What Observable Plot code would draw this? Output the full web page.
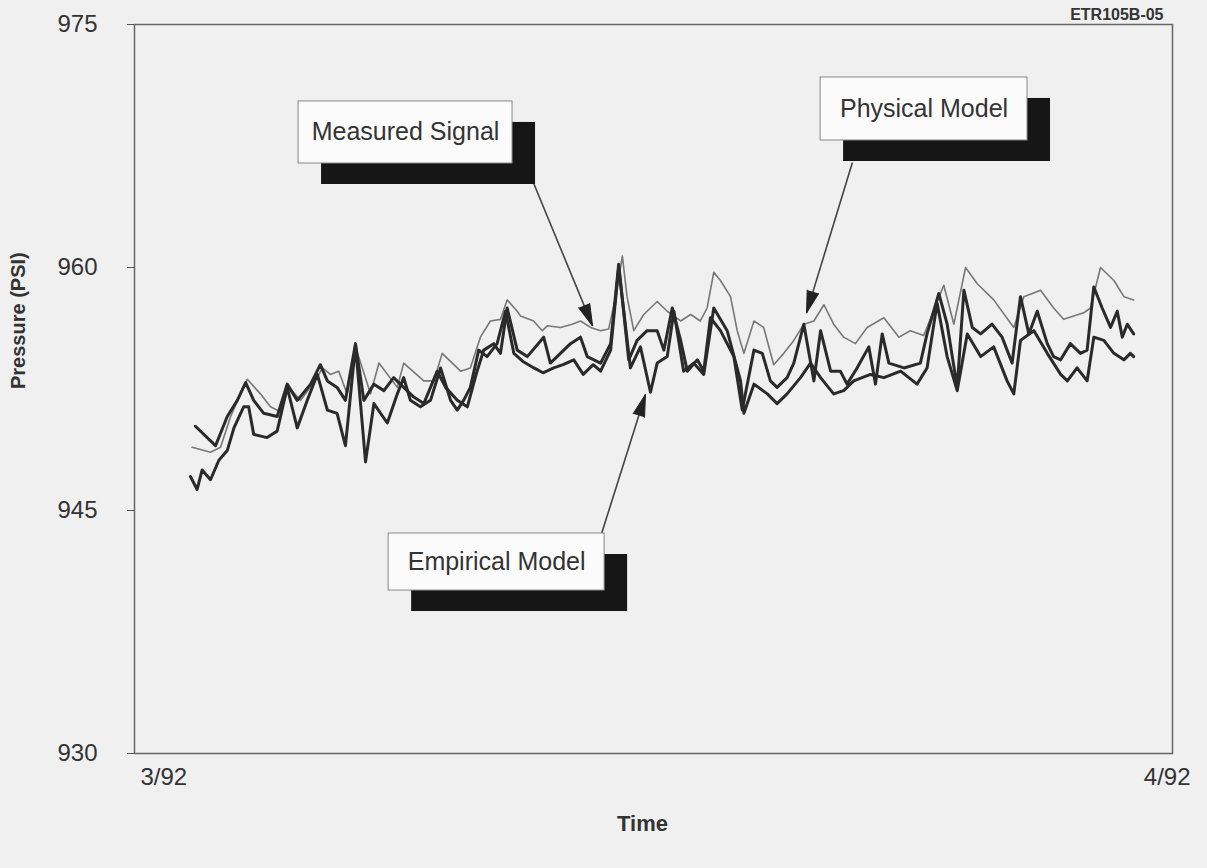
<!DOCTYPE html>
<html><head><meta charset="utf-8">
<script src="https://cdn.jsdelivr.net/npm/d3@7"></script>
<script src="https://cdn.jsdelivr.net/npm/@observablehq/plot@0.6"></script>
<style>html,body{margin:0;padding:0;background:#f0f0f0;} #chart svg{display:block;}</style>
</head><body><div id="chart"></div>
<script>
// x = days since 3/1/92, y = pressure (PSI)
const measured = [
[1.72,948.9],[2.27,948.6],[2.57,948.9],[2.87,950.8],[3.17,952.2],[3.37,953.1],[3.76,952.2],[4.06,951.4],[4.36,951.1],[4.61,952.6],[4.96,951.8],[5.46,953.2],[5.61,953.8],[5.85,953.4],[6.10,953.6],[6.35,952.2],[6.60,955.1],[7.05,952.2],[7.30,954.1],[7.85,952.6],[8.04,954.1],[8.64,953.0],[8.94,953.0],[9.19,954.7],[9.74,953.6],[10.03,953.8],[10.33,955.7],[10.63,956.7],[10.93,956.8],[11.13,958.0],[11.43,957.3],[11.53,957.0],[11.92,956.7],[12.18,956.1],[12.33,956.4],[12.72,956.3],[13.07,956.5],[13.32,956.7],[13.62,956.3],[13.92,956.1],[14.16,956.2],[14.37,958.2],[14.57,960.7],[14.71,958.2],[14.91,956.1],[15.21,957.1],[15.61,957.9],[15.91,957.3],[16.31,956.7],[16.61,957.1],[16.90,956.7],[17.10,957.5],[17.30,959.7],[17.50,959.2],[17.80,958.2],[18.00,956.1],[18.20,954.7],[18.50,956.7],[18.79,956.3],[19.09,954.0],[19.39,954.7],[19.69,955.5],[19.99,956.5],[20.29,956.7],[20.59,957.7],[20.88,956.5],[21.18,955.7],[21.53,955.3],[21.88,956.3],[22.38,956.9],[22.83,955.7],[23.17,956.1],[23.57,955.8],[24.17,958.9],[24.47,956.5],[24.82,960.0],[25.17,959.0],[25.66,958.0],[26.26,956.3],[26.56,958.2],[27.06,958.6],[27.45,957.5],[27.75,956.8],[28.35,957.2],[28.55,957.5],[28.85,960.0],[29.25,959.2],[29.55,958.2],[29.84,958.0]
];
const physical = [
[1.82,950.2],[2.42,949.0],[2.77,950.8],[3.07,951.8],[3.32,952.9],[3.56,951.8],[3.86,951.0],[4.26,950.8],[4.56,952.8],[4.86,951.8],[5.26,952.8],[5.55,954.0],[5.76,953.0],[6.05,952.6],[6.30,951.8],[6.60,955.3],[6.85,951.8],[7.15,952.8],[7.45,952.4],[7.74,953.2],[8.04,952.6],[8.34,952.0],[8.64,951.6],[9.04,953.6],[9.29,952.6],[9.64,951.8],[9.94,951.4],[10.23,953.6],[10.43,954.9],[10.73,955.3],[10.93,954.7],[11.13,957.5],[11.43,954.9],[11.73,954.5],[12.22,955.7],[12.42,954.1],[13.02,955.3],[13.32,955.7],[13.52,954.5],[13.92,954.1],[14.22,955.3],[14.46,960.2],[14.76,954.3],[15.01,955.5],[15.31,956.1],[15.61,956.1],[15.81,954.9],[16.06,957.5],[16.31,955.5],[16.51,953.6],[16.81,954.3],[17.00,953.6],[17.20,956.9],[17.50,956.1],[17.90,954.5],[18.15,951.2],[18.50,954.9],[18.75,954.7],[18.99,953.0],[19.19,952.6],[19.49,953.2],[19.69,954.1],[19.99,956.5],[20.29,953.0],[20.49,956.1],[20.79,953.6],[21.08,953.6],[21.28,952.8],[21.58,953.8],[21.93,955.1],[22.13,952.8],[22.33,955.9],[22.53,954.1],[22.98,953.8],[23.47,954.1],[23.67,955.9],[24.02,958.4],[24.27,956.5],[24.57,952.6],[24.77,958.6],[25.02,956.3],[25.27,955.9],[25.61,956.5],[25.91,955.7],[26.21,954.1],[26.46,958.2],[26.71,955.9],[26.96,957.3],[27.26,955.3],[27.45,954.5],[27.66,954.3],[27.95,955.3],[28.25,954.7],[28.45,954.9],[28.65,958.8],[28.90,957.5],[29.15,956.3],[29.35,957.3],[29.50,955.7],[29.65,956.5],[29.84,955.9]
];
const empirical = [
[1.67,947.1],[1.87,946.3],[2.02,947.5],[2.27,946.9],[2.52,948.1],[2.77,948.7],[2.97,950.1],[3.26,951.4],[3.41,951.4],[3.56,949.7],[3.96,949.5],[4.26,949.9],[4.56,952.6],[4.86,950.1],[5.16,951.8],[5.46,953.4],[5.76,951.2],[6.05,951.0],[6.30,949.0],[6.60,955.2],[6.90,948.0],[7.15,951.6],[7.55,950.4],[7.85,952.2],[8.04,953.2],[8.24,951.8],[8.54,951.4],[8.84,951.8],[9.14,953.8],[9.44,951.8],[9.64,951.2],[9.83,951.8],[10.03,952.6],[10.28,954.9],[10.53,954.5],[10.83,955.3],[11.08,957.3],[11.33,954.7],[11.6,954.2],[11.93,953.8],[12.2,953.5],[12.52,953.8],[12.8,954.0],[13.12,954.3],[13.4,953.4],[13.7,954.0],[13.92,953.6],[14.22,954.9],[14.46,960.0],[14.81,953.8],[15.11,955.1],[15.41,952.3],[15.61,954.1],[15.91,954.5],[16.11,957.3],[16.40,953.6],[16.70,954.1],[17.00,953.4],[17.30,957.5],[17.70,956.1],[18.10,953.0],[18.20,951.0],[18.50,952.8],[18.90,952.2],[19.19,951.6],[19.49,952.2],[19.89,953.2],[20.19,954.1],[20.49,953.2],[20.88,952.2],[21.18,952.4],[21.48,953.0],[21.98,953.4],[22.38,953.2],[22.88,953.6],[23.37,952.8],[23.67,953.8],[23.97,957.8],[24.27,954.5],[24.57,952.4],[24.87,955.9],[25.27,954.5],[25.66,955.1],[26.06,953.0],[26.26,952.2],[26.46,955.5],[26.86,956.1],[27.26,954.7],[27.66,953.4],[27.86,953.0],[28.15,953.8],[28.45,953.0],[28.65,955.7],[28.95,955.5],[29.25,954.7],[29.55,954.3],[29.74,954.7],[29.84,954.5]
];
const yTicks = [930, 945, 960, 975];
const xTickValues = [0, 31];
const xTickLabels = ["3/92", "4/92"];
const annotLabels = ["Measured Signal", "Physical Model", "Empirical Model"];
// box extents [x1, x2, yTop, yBottom] in data units
const annotBoxes = [[4.90, 11.29, 970.25, 966.42], [20.49, 26.67, 971.73, 967.84], [7.59, 14.04, 943.58, 940.06]];
// arrow [xStart, yStart, xEnd, yEnd]
const annotArrows = [[11.92, 965.2, 13.68, 956.4], [21.44, 966.48, 20.07, 957.2], [13.95, 943.58, 15.26, 952.16]];

const W = 1207, H = 868, ML = 134, MR = 35, MT = 24, MB = 115;
const kx = (W - ML - MR) / 31, ky = (H - MT - MB) / 45; // px per unit, for arrow head direction
const rows = (pairs) => pairs.map(([day, psi]) => ({day, psi}));
const annots = annotLabels.map((label, i) => {
  const [ax1, ay1, ax2, ay2] = annotArrows[i];
  const dxp = (ax2 - ax1) * kx, dyp = -(ay2 - ay1) * ky;
  return {
    label,
    x1: annotBoxes[i][0], x2: annotBoxes[i][1], y1: annotBoxes[i][2], y2: annotBoxes[i][3],
    ax1, ay1, ax2, ay2,
    angle: Math.atan2(dxp, -dyp) * 180 / Math.PI
  };
});
const font = "'Liberation Sans', Arial, Helvetica, sans-serif";

const chart = Plot.plot({
  width: W, height: H,
  marginLeft: ML, marginRight: MR, marginTop: MT, marginBottom: MB,
  style: {background: "#f0f0f0", fontFamily: font, color: "#333", overflow: "visible"},
  x: {domain: [0, 31], axis: null},
  y: {domain: [930, 975], axis: null},
  marks: [
    Plot.frame({stroke: "#666", strokeWidth: 1.5}),
    Plot.axisY({ticks: yTicks, tickSize: 7, tickPadding: 30, fontSize: 24, label: null, stroke: "#555", tickFormat: d => String(d)}),
    Plot.text([xTickValues[0]], {x: d => d, frameAnchor: "bottom", text: () => xTickLabels[0], textAnchor: "start", lineAnchor: "middle", dx: 6, dy: 24, fontSize: 24, fill: "#333"}),
    Plot.text([xTickValues[1]], {x: d => d, frameAnchor: "bottom", text: () => xTickLabels[1], textAnchor: "end", lineAnchor: "middle", dx: 18, dy: 24, fontSize: 24, fill: "#333"}),
    Plot.text(["Time"], {frameAnchor: "bottom", dx: -11, dy: 70, lineAnchor: "middle", fontSize: 22, fontWeight: "bold", fill: "#333"}),
    Plot.text(["Pressure (PSI)"], {frameAnchor: "left", dx: -116, rotate: -90, fontSize: 20, fontWeight: "bold", fill: "#333"}),
    Plot.text(["ETR105B-05"], {frameAnchor: "top-right", textAnchor: "end", lineAnchor: "bottom", dx: -9, dy: -5, fontSize: 16, fontWeight: "bold", fill: "#333"}),
    Plot.line(rows(measured), {x: "day", y: "psi", stroke: "#777", strokeWidth: 1.6}),
    Plot.line(rows(empirical), {x: "day", y: "psi", stroke: "#2a2a2a", strokeWidth: 3}),
    Plot.line(rows(physical), {x: "day", y: "psi", stroke: "#2a2a2a", strokeWidth: 3}),
    Plot.link(annots, {x1: "ax1", y1: "ay1", x2: "ax2", y2: "ay2", stroke: "#444", strokeWidth: 1.6}),
    Plot.vector(annots, {x: "ax2", y: "ay2", rotate: "angle", length: 22, r: 6, shape: "spike", anchor: "end", fill: "#222", stroke: "#222", strokeWidth: 1}),
    Plot.rect(annots, {x1: "x1", x2: "x2", y1: "y1", y2: "y2", fill: "#161616", dx: 23, dy: 21}),
    Plot.rect(annots, {x1: "x1", x2: "x2", y1: "y1", y2: "y2", fill: "#fbfbfb", stroke: "#888", strokeWidth: 1}),
    Plot.text(annots, {x: d => (d.x1 + d.x2) / 2, y: d => (d.y1 + d.y2) / 2, text: "label", fontSize: 25, fill: "#333"})
  ]
});
document.getElementById("chart").append(chart);
</script>
</body></html>
